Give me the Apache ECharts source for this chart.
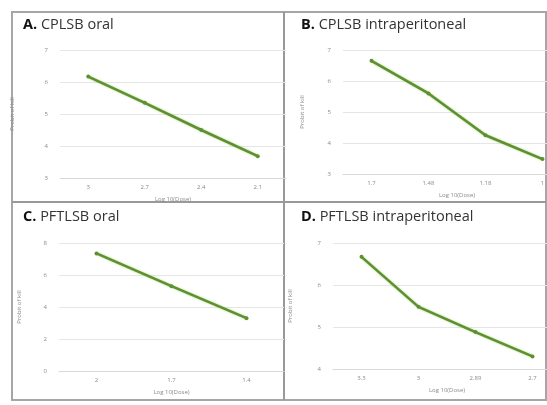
<!DOCTYPE html>
<html>
<head>
<meta charset="utf-8">
<script src="https://cdn.jsdelivr.net/npm/echarts@6/dist/echarts.min.js"></script>
<style>
  html, body { margin: 0; padding: 0; background: #fff; }
  #chart { width: 547px; height: 405px; }
</style>
</head>
<body>
<div id="chart"></div>
<script>
// panel data
const catA = ['3', '2.7', '2.4', '2.1'];
const valA = [6.17, 5.35, 4.5, 3.68];
const catB = ['1.7', '1.48', '1.18', '1'];
const valB = [6.65, 5.6, 4.25, 3.48];
const catC = ['2', '1.7', '1.4'];
const valC = [7.35, 5.3, 3.3];
const catD = ['3.3', '3', '2.89', '2.7'];
const valD = [6.67, 5.48, 4.88, 4.3];

const titles = [
  ['A.', 'CPLSB oral'],
  ['B.', 'CPLSB intraperitoneal'],
  ['C.', 'PFTLSB oral'],
  ['D.', 'PFTLSB intraperitoneal']
];

const chart = echarts.init(document.getElementById('chart'));

const labelStyle = { color: '#8a8a8a', fontSize: 6, fontFamily: 'Open Sans' };
const nameStyle = { color: '#8a8a8a', fontSize: 6, fontFamily: 'Open Sans' };

// B and D panels are cut off by the right edge in the source image
const grids = [
  { left: 60, top: 50, width: 226, height: 128 },
  { left: 343, top: 50, width: 228, height: 124 },
  { left: 59, top: 243, width: 225, height: 128 },
  { left: 333, top: 243, width: 228, height: 126 }
].map(g => Object.assign({ outerBoundsMode: 'none', containLabel: false }, g));

const xCats = [catA, catB, catC, catD];
const yRange = [[3, 7, 1], [3, 7, 1], [0, 8, 2], [4, 7, 1]];
const yGap = [45, 38, 37, 40];
const vals = [valA, valB, valC, valD];

const option = {
  backgroundColor: '#fff',
  animation: false,
  title: titles.map((t, i) => ({
    text: '{b|' + t[0] + '} ' + t[1],
    left: i % 2 === 0 ? 18 : 296,
    top: i < 2 ? 12 : 204,
    textStyle: {
      fontSize: 14.5,
      fontFamily: 'Open Sans',
      fontWeight: 'normal',
      color: '#333',
      rich: { b: { fontSize: 14.5, fontWeight: 'bold', color: '#111', fontFamily: 'Open Sans' } }
    }
  })),
  grid: grids,
  xAxis: xCats.map((c, i) => ({
    type: 'category',
    gridIndex: i,
    data: c,
    name: 'Log 10(Dose)',
    nameLocation: 'middle',
    nameGap: 18,
    nameTextStyle: nameStyle,
    axisLine: { lineStyle: { color: '#d9d9d9' } },
    axisTick: { show: false },
    axisLabel: Object.assign({ margin: 6 }, labelStyle)
  })),
  yAxis: yRange.map((r, i) => ({
    type: 'value',
    gridIndex: i,
    min: r[0],
    max: r[1],
    interval: r[2],
    name: 'Probit of kill',
    nameLocation: 'middle',
    nameGap: yGap[i],
    nameTextStyle: nameStyle,
    axisLine: { show: false },
    axisTick: { show: false },
    axisLabel: Object.assign({ margin: 12 }, labelStyle),
    splitLine: { lineStyle: { color: '#e6e6e6', width: 1 } }
  })),
  series: vals.map((v, i) => ({
    type: 'line',
    xAxisIndex: i,
    yAxisIndex: i,
    data: v,
    symbol: 'circle',
    symbolSize: 4,
    itemStyle: { color: '#5f8f35' },
    lineStyle: {
      color: '#5f8f35',
      width: 2.5,
      shadowColor: 'rgba(146, 208, 80, 0.9)',
      shadowBlur: 2
    }
  })),
  graphic: [
    {
      type: 'rect',
      shape: { x: 12, y: 12, width: 534, height: 388 },
      style: { fill: 'none', stroke: '#a6a6a6', lineWidth: 2 },
      silent: true
    },
    {
      type: 'line',
      shape: { x1: 284, y1: 12, x2: 284, y2: 400 },
      style: { stroke: '#999', lineWidth: 2 },
      silent: true
    },
    {
      type: 'line',
      shape: { x1: 12, y1: 202, x2: 546, y2: 202 },
      style: { stroke: '#999', lineWidth: 2 },
      silent: true
    }
  ]
};

chart.setOption(option);
</script>
</body>
</html>
